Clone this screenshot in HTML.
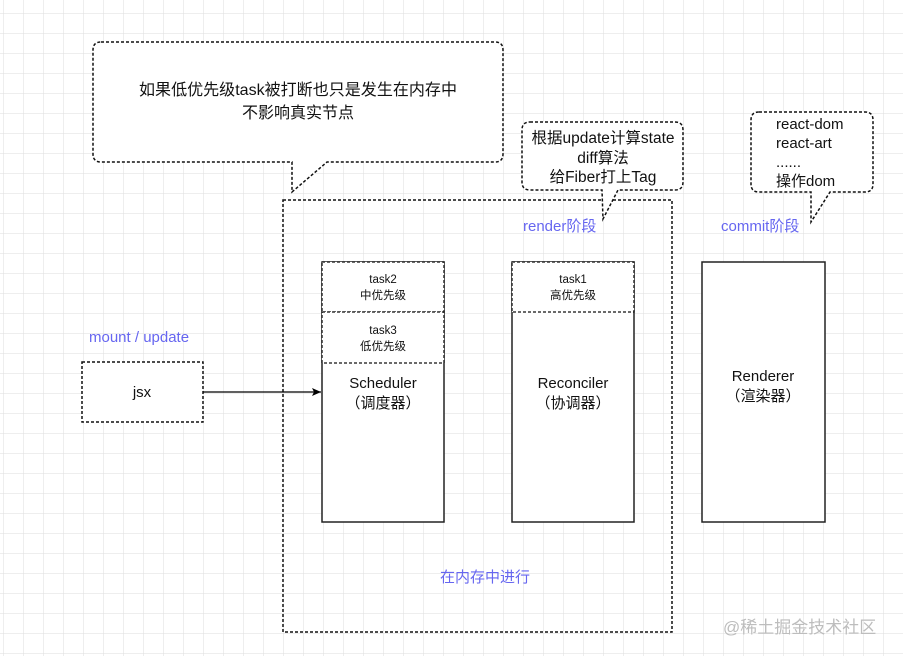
<!DOCTYPE html>
<html><head><meta charset="utf-8"><style>
html,body{margin:0;padding:0;background:#fff}
svg{display:block}
text{font-family:"Liberation Sans","Noto Sans CJK SC",sans-serif}
</style></head><body>
<svg width="903" height="656" viewBox="0 0 903 656" xmlns="http://www.w3.org/2000/svg">
<defs>
<pattern id="g" x="3" y="13" width="20" height="20" patternUnits="userSpaceOnUse">
<path d="M0 0H20M0 0V20" stroke="#dedede" stroke-width="1" fill="none"/>
</pattern>
<marker id="ar" markerWidth="10" markerHeight="10" refX="9" refY="5" orient="auto" markerUnits="userSpaceOnUse">
<path d="M0 1L9 5L0 9L2 5Z" fill="#000"/>
</marker>
</defs>
<rect width="903" height="656" fill="url(#g)"/>
<g fill="#fff" stroke="#111" stroke-width="1.5" stroke-dasharray="3,2">
<path d="M101 42H495Q503 42 503 50V154Q503 162 495 162H327L292 192L292 162H101Q93 162 93 154V50Q93 42 101 42Z"/>
<rect x="283" y="200" width="389" height="432" fill="none"/>
<path d="M530 122H675Q683 122 683 130V182Q683 190 675 190H618L603 219L602 190H530Q522 190 522 182V130Q522 122 530 122Z"/>
<path d="M759 112H865Q873 112 873 120V184Q873 192 865 192H830L811 222L811 192H759Q751 192 751 184V120Q751 112 759 112Z"/>
<rect x="82" y="362" width="121" height="60"/>
</g>
<g fill="#fff" stroke="#222" stroke-width="1.5">
<rect x="322" y="262" width="122" height="260"/>
<rect x="512" y="262" width="122" height="260"/>
<rect x="702" y="262" width="123" height="260"/>
</g>
<g fill="#fff" stroke="#111" stroke-width="1.3" stroke-dasharray="3,2">
<rect x="322" y="262" width="122" height="50"/>
<rect x="322" y="312" width="122" height="51"/>
<rect x="512" y="262" width="122" height="50"/>
</g>
<line x1="203" y1="392" x2="321" y2="392" stroke="#000" stroke-width="1.3" marker-end="url(#ar)"/>
<g fill="#111" text-anchor="middle" font-size="15">
<text x="298" y="95" font-size="16" textLength="318" lengthAdjust="spacingAndGlyphs">如果低优先级task被打断也只是发生在内存中</text>
<text x="298" y="118" font-size="16">不影响真实节点</text>
<text x="603" y="143" font-size="15.5">根据update计算state</text>
<text x="603" y="163" font-size="15.5">diff算法</text>
<text x="603" y="182" font-size="15.5">给Fiber打上Tag</text>
<text x="142" y="397">jsx</text>
<text x="383" y="388" font-size="15">Scheduler</text>
<text x="383" y="408" font-size="15">（调度器）</text>
<text x="573" y="388" font-size="15">Reconciler</text>
<text x="573" y="408" font-size="15">（协调器）</text>
<text x="763" y="381" font-size="15">Renderer</text>
<text x="763" y="401" font-size="15">（渲染器）</text>
<g font-size="11.5">
<text x="383" y="283">task2</text><text x="383" y="299">中优先级</text>
<text x="383" y="334">task3</text><text x="383" y="350">低优先级</text>
<text x="573" y="283">task1</text><text x="573" y="299">高优先级</text>
</g>
</g>
<g fill="#111" font-size="15">
<text x="776" y="129">react-dom</text>
<text x="776" y="148">react-art</text>
<text x="776" y="167">......</text>
<text x="776" y="186">操作dom</text>
</g>
<g fill="#6666f0" font-size="15">
<text x="523" y="231">render阶段</text>
<text x="721" y="231">commit阶段</text>
<text x="89" y="342">mount / update</text>
<text x="440" y="582">在内存中进行</text>
</g>
<text x="723" y="633" font-size="17" fill="#bdbdbd">@稀土掘金技术社区</text>
</svg>
</body></html>
